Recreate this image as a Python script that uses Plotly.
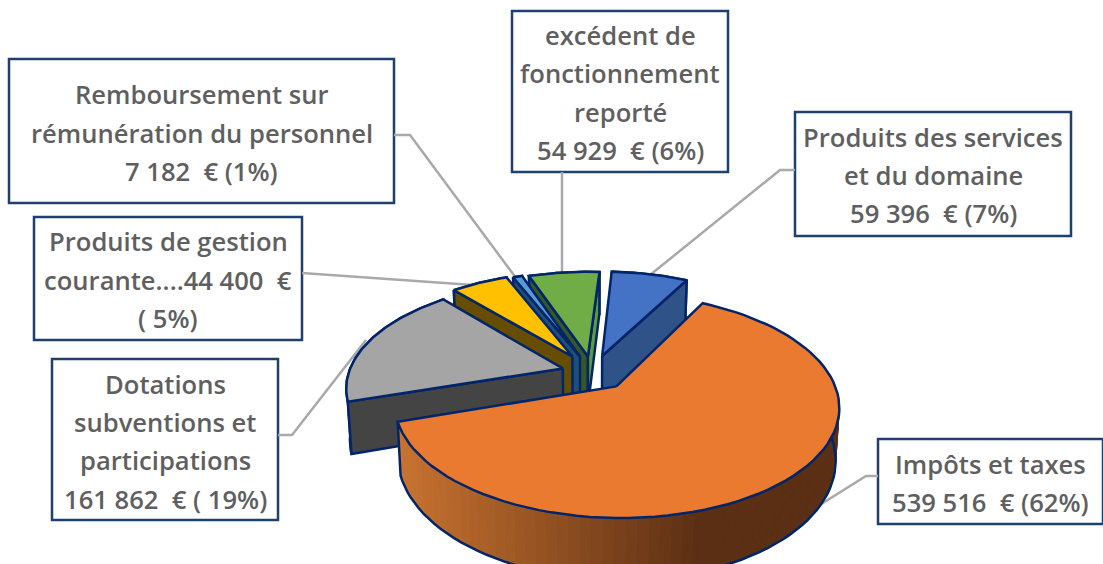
import numpy as np
import plotly.graph_objects as go

# ---- data ----
categories = ["Produits des services et du domaine", "Impôts et taxes",
              "Dotations subventions et participations", "Produits de gestion courante",
              "Remboursement sur rémunération du personnel", "excédent de fonctionnement reporté"]
values = [59396, 539516, 161862, 44400, 7182, 54929]

label_lines = [
    ["Produits des services", "et du domaine", "59 396\u00a0\u00a0€ (7%)"],
    ["Impôts et taxes", "539 516\u00a0\u00a0€ (62%)"],
    ["Dotations", "subventions et", "participations", "161 862\u00a0\u00a0€ ( 19%)"],
    ["Produits de gestion", "courante....44 400\u00a0\u00a0€", "( 5%)"],
    ["Remboursement sur", "rémunération du personnel", "7 182\u00a0\u00a0€ (1%)"],
    ["excédent de", "fonctionnement", "reporté", "54 929\u00a0\u00a0€ (6%)"],
]

# ---- style and layout ----
top_colors = ["#4472C4", "#E97A30", "#A5A5A5", "#FFC000", "#5B9BD5", "#70AD47"]
wall_colors = ["#2F5288", None, "#444444", "#664D00", "#1F4E79", "#385723"]
end_face = ["#2F5288", None, None, None, None, "#5E9A3A"]
start_face = [None, None, "#444444", "#664D00", "#1F4E79", "#385723"]
explode = [0.17, 0.17, 0.145, 0.185, 0.17, 0.16]
OUT = "#00256B"
LEAD = "#A9A9A9"
BOX = "#1F3F6E"
TEXT = "#5F5F5F"
CX, CY, A, B, K, DEPTH = 592.5, 372.5, 214, 104, 0.17, 50
START = 3.5

boxes = [(795, 112, 1071, 236), (878, 439, 1103, 524), (52, 359, 278, 520),
         (34, 217, 302, 340), (9, 59, 394, 203), (512, 11, 728, 172)]
line_y = [[137, 175, 213], [464, 502], [384, 422, 460, 499],
          [241, 280, 318], [94, 133, 171], [35, 73, 112, 150]]
leaders = [([795, 780, 650], [170, 170, 275]), ([878, 866, 775], [476, 476, 533]),
           ([278, 292, 366], [435, 435, 340]), ([302, 473], [273, 285]),
           ([394, 410, 516], [135, 135, 278]), ([562, 562], [172, 272])]


def proj(X, Y, low=False):
    X, Y = np.asarray(X, float), np.asarray(Y, float)
    d = 1 + K * Y
    x = CX + A * X / d
    y = CY - B * Y / d
    if low:
        y = y + DEPTH / d
        x = CX + (x - CX) * 0.985
    return x, y


fig = go.Figure()


def poly(x, y, fill, line=OUT, w=2.5):
    fig.add_trace(go.Scatter(x=list(x), y=list(y), mode="lines", fill="toself", fillcolor=fill,
                             line=dict(color=line, width=w), hoverinfo="skip", showlegend=False))


for (lx, ly) in leaders:
    fig.add_trace(go.Scatter(x=lx, y=ly, mode="lines", line=dict(color=LEAD, width=2.5),
                             hoverinfo="skip", showlegend=False))

total = sum(values)
sweeps = [v / total * 360 for v in values]
starts = [START + sum(sweeps[:i]) for i in range(len(values))]

geo = []
for i in range(len(values)):
    t0, sw = starts[i], sweeps[i]
    mid = np.radians(t0 + sw / 2)
    ox, oy = explode[i] * np.sin(mid), explode[i] * np.cos(mid)
    geo.append((t0, sw, ox, oy))


def arc(i, n=80, low=False):
    t0, sw, ox, oy = geo[i]
    th = np.radians(np.linspace(t0, t0 + sw, n))
    return proj(ox + np.sin(th), oy + np.cos(th), low)


def radial(i, theta):
    _, _, ox, oy = geo[i]
    th = np.radians(theta)
    ax, ay = proj(ox, oy)
    bx, by = proj(ox, oy, True)
    ex, ey = proj(ox + np.sin(th), oy + np.cos(th))
    fx, fy = proj(ox + np.sin(th), oy + np.cos(th), True)
    return [ax, ex, fx, bx, ax], [ay, ey, fy, by, ay]


def top(i):
    _, _, ox, oy = geo[i]
    x, y = arc(i)
    ax, ay = proj(ox, oy)
    poly([ax, *x, ax], [ay, *y, ay], top_colors[i])


def orange_shade(px):
    s = float(np.clip((px - 400) / 300, 0, 1))
    c0, c1 = (200, 114, 48), (91, 47, 20)
    return "rgb(%d,%d,%d)" % tuple(round(a + (b - a) * s) for a, b in zip(c0, c1))


for i in [0, 5, 4, 3, 2, 1]:
    t0, sw, ox, oy = geo[i]
    if i == 1:
        ux, uy = arc(i, 90)
        lx, ly = arc(i, 90, True)
        for j in range(89):
            col = orange_shade((ux[j] + ux[j + 1]) / 2)
            poly([ux[j], ux[j + 1], lx[j + 1], lx[j], ux[j]],
                 [uy[j], uy[j + 1], ly[j + 1], ly[j], uy[j]], col, line=col, w=1)
        fig.add_trace(go.Scatter(x=[ux[-1], *lx[::-1], ux[0]], y=[uy[-1], *ly[::-1], uy[0]], mode="lines",
                                 line=dict(color=OUT, width=2.5), hoverinfo="skip", showlegend=False))
    else:
        ux, uy = arc(i)
        lx, ly = arc(i, low=True)
        poly([*ux, *lx[::-1], ux[0]], [*uy, *ly[::-1], uy[0]], wall_colors[i])
        if start_face[i]:
            poly(*radial(i, t0), start_face[i])
        if end_face[i]:
            poly(*radial(i, t0 + sw), end_face[i])
    top(i)

shapes = [dict(type="rect", x0=b[0], y0=b[1], x1=b[2], y1=b[3], fillcolor="white",
               line=dict(color=BOX, width=2.5), layer="below") for b in boxes]

ann = []
for b, lines, ys in zip(boxes, label_lines, line_y):
    for t, yy in zip(lines, ys):
        ann.append(dict(x=(b[0] + b[2]) / 2, y=yy, text=t, showarrow=False, xanchor="center", yanchor="middle",
                        font=dict(family="Open Sans", size=25.6, color=TEXT, weight=600)))

fig.update_layout(width=1103, height=564, margin=dict(l=0, r=0, t=0, b=0), autosize=False,
                  paper_bgcolor="white", plot_bgcolor="white", shapes=shapes, annotations=ann,
                  showlegend=False,
                  xaxis=dict(range=[0, 1103], visible=False, fixedrange=True),
                  yaxis=dict(range=[564, 0], visible=False, fixedrange=True))
fig.write_html("out.html", config=dict(displayModeBar=False),
               post_script="document.body.style.margin='0';document.body.style.overflow='hidden';")
